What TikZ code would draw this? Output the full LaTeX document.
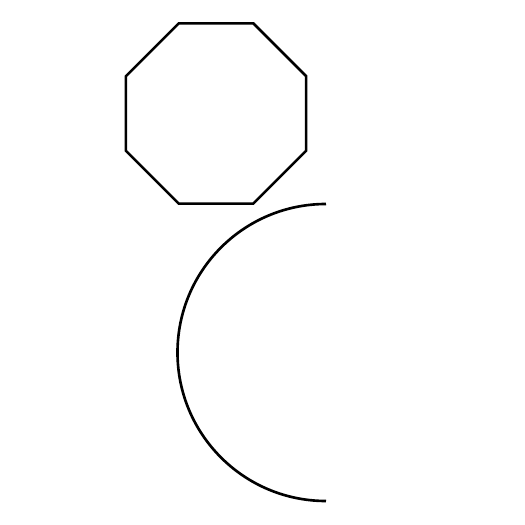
\documentclass[tikz,border=0pt]{standalone}
\usepackage{tikz}
\usetikzlibrary{calc}

\begin{document}
\begin{tikzpicture}[outline/.style={draw=black, line width=1.5pt}]
  \useasboundingbox (0,0) rectangle (10.5,10.5);
  \coordinate (octc) at (4.32,8.23);
  \coordinate (arcc) at (6.52,3.45);
  % octagon, flat on top and bottom
  \draw[outline] ($(octc)+(22.5:1.95)$)
        \foreach \a in {67.5,112.5,...,337.5} { -- ($(octc)+(\a:1.95)$) } -- cycle;
  % left half of a circle
  \draw[outline] ($(arcc)+(90:2.97)$) arc[start angle=90, end angle=270, radius=2.97];
\end{tikzpicture}
\end{document}
